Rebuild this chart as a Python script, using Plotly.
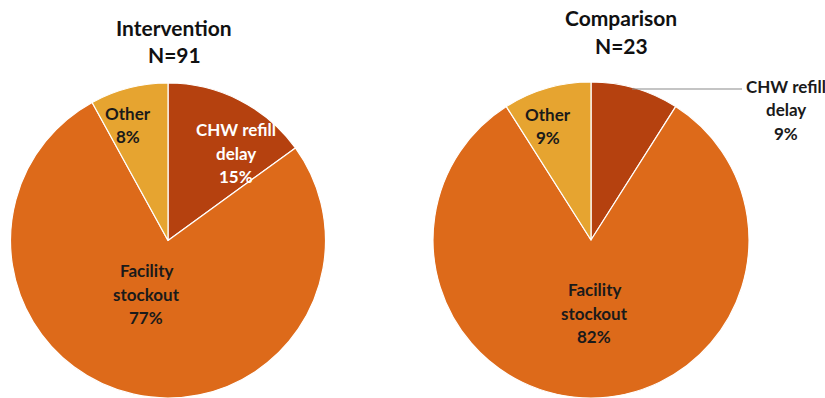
import plotly.graph_objects as go

W, H = 825, 398

categories = ["CHW refill delay", "Facility stockout", "Other"]
intervention_values = [15, 77, 8]
comparison_values = [9, 82, 9]
titles = [("Intervention", "N=91"), ("Comparison", "N=23")]
colors = ["#B5410F", "#DD6A1A", "#E6A430"]

def px(x, y):
    return x / W, 1 - y / H

fig = go.Figure()
fig.add_trace(go.Pie(
    labels=categories, values=intervention_values, sort=False,
    direction="clockwise", rotation=0,
    marker=dict(colors=colors, line=dict(color="white", width=1.2)),
    textinfo="none", hoverinfo="label+percent", showlegend=False,
    domain=dict(x=[10 / W, 326 / W], y=[0, 1 - 83 / H]),
))
fig.add_trace(go.Pie(
    labels=categories, values=comparison_values, sort=False,
    direction="clockwise", rotation=0,
    marker=dict(colors=colors, line=dict(color="white", width=1.2)),
    textinfo="none", hoverinfo="label+percent", showlegend=False,
    domain=dict(x=[432 / W, 750 / W], y=[0, 1 - 82 / H]),
))

FONT = "Lato"
ann = []

def add_text(lines, cx, cy, color, size=17, spacing=23.5):
    n = len(lines)
    for i, t in enumerate(lines):
        y = cy + (i - (n - 1) / 2) * spacing
        x0, y0 = px(cx, y)
        ann.append(dict(x=x0, y=y0, xref="paper", yref="paper", text="<b>%s</b>" % t,
                        showarrow=False, xanchor="center", yanchor="middle",
                        font=dict(family=FONT, size=size, color=color)))

# titles
add_text(list(titles[0]), 174, 41, "#111111", size=21, spacing=28)
add_text(list(titles[1]), 621, 32, "#111111", size=21, spacing=28)

def pct(v, vals):
    return "%d%%" % round(100 * v / sum(vals))

iv, cv = intervention_values, comparison_values
add_text(["CHW refill", "delay", pct(iv[0], iv)], 236, 153, "white")
add_text(["Other", pct(iv[2], iv)], 128, 125, "#1a1a1a")
add_text(["Facility", "stockout", pct(iv[1], iv)], 146, 294, "#1a1a1a")

add_text(["Other", pct(cv[2], cv)], 548, 126, "#1a1a1a")
add_text(["Facility", "stockout", pct(cv[1], cv)], 594, 313, "#1a1a1a")
add_text(["CHW refill", "delay", pct(cv[0], cv)], 786, 110, "#1a1a1a")

fig.update_layout(
    width=W, height=H, margin=dict(l=0, r=0, t=0, b=0),
    paper_bgcolor="white", plot_bgcolor="white",
    annotations=ann,
    shapes=[dict(type="line", xref="paper", yref="paper",
                 x0=632 / W, x1=742 / W, y0=1 - 89 / H, y1=1 - 89 / H,
                 line=dict(color="#8a8a8a", width=1.2))],
)

fig.write_html("out.html")
